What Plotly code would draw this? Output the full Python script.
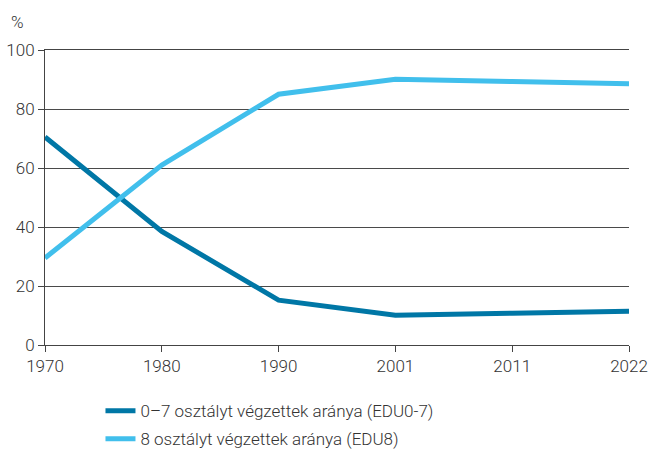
import plotly.graph_objects as go

years = ["1970", "1980", "1990", "2001", "2011", "2022"]
edu07 = [70.5, 38.5, 15.2, 10.1, 10.8, 11.4]
edu8 = [29.5, 61.0, 85.0, 90.1, 89.3, 88.6]
names = ["0–7 osztályt végzettek aránya (EDU0-7)", "8 osztályt végzettek aránya (EDU8)"]
colors = ["#0077a6", "#41bfec"]
yticks = [0, 20, 40, 60, 80, 100]

xs = list(range(len(years)))
fig = go.Figure()
for i, (vals, nm, c) in enumerate(zip([edu07, edu8], names, colors)):
    fig.add_trace(go.Scatter(x=xs, y=vals, mode="lines", name=nm, legendgroup=f"g{i}",
                             line=dict(color=c, width=5)))

font = dict(family="Roboto", size=17, color="#333333", weight=300)
fig.update_layout(
    width=649, height=452,
    margin=dict(l=45, r=20, t=50, b=107, autoexpand=False),
    paper_bgcolor="white", plot_bgcolor="white",
    font=font,
    showlegend=True,
    legend=dict(orientation="v", x=0.095, y=-0.163, xanchor="left", yanchor="top",
                font=font, tracegroupgap=3, itemwidth=30),
    xaxis=dict(range=[0, len(years) - 1], tickvals=xs, ticktext=years, automargin=False,
               showgrid=False, zeroline=False, showline=True, linecolor="#444444",
               linewidth=1, mirror=True, ticks="outside", ticklen=6, tickcolor="#444444",
               tickfont=font),
    yaxis=dict(range=[0, 100], tickvals=yticks, showgrid=True, gridcolor="#4a4a4a",
               gridwidth=1, zeroline=False, showline=True, linecolor="#444444",
               linewidth=1, ticks="outside", ticklen=6, tickcolor="#444444",
               automargin=False, tickfont=font),
    annotations=[dict(text="%", xref="paper", yref="paper", x=-0.047, y=1.055,
                      xanchor="center", yanchor="bottom", showarrow=False,
                      font=font)],
)
fig.write_html("out.html", config={"displayModeBar": False},
               post_script="document.body.style.margin='0';document.body.style.overflow='hidden';")
